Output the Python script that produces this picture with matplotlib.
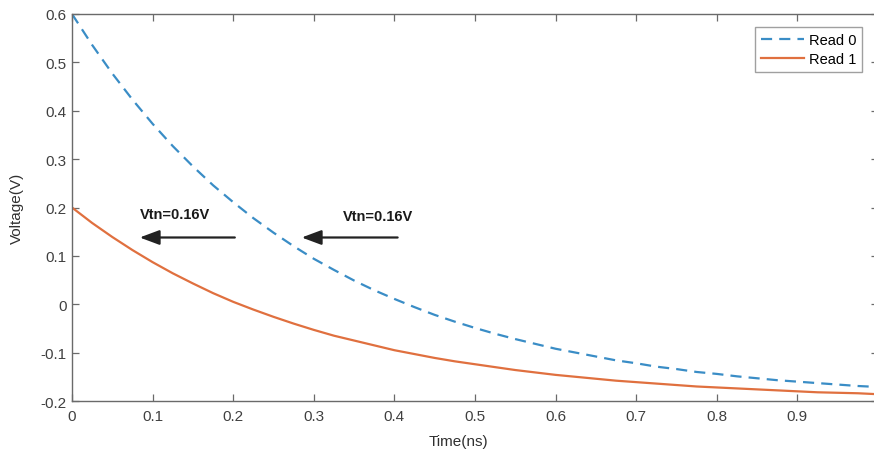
import matplotlib
matplotlib.use("Agg")
import matplotlib.pyplot as plt

plt.rcParams["font.family"] = ["Liberation Sans", "DejaVu Sans"]

time_ns = [0.0, 0.025, 0.05, 0.075, 0.1, 0.125, 0.15, 0.175, 0.2, 0.225, 0.25,
           0.275, 0.3, 0.325, 0.35, 0.375, 0.4, 0.425, 0.45, 0.475, 0.5,
           0.525, 0.55, 0.575, 0.6, 0.625, 0.65, 0.675, 0.7, 0.725, 0.75,
           0.775, 0.8, 0.825, 0.85, 0.875, 0.9, 0.925, 0.95, 0.975, 1.0]
read0 = [0.600, 0.536, 0.477, 0.423, 0.373, 0.327, 0.285, 0.246, 0.211, 0.178, 0.148,
         0.120, 0.094, 0.071, 0.049, 0.029, 0.011, -0.006, -0.022, -0.036, -0.049,
         -0.061, -0.072, -0.082, -0.092, -0.100, -0.108, -0.116, -0.122, -0.129, -0.134,
         -0.140, -0.144, -0.149, -0.153, -0.157, -0.160, -0.163, -0.166, -0.169, -0.171]
read1 = [0.200, 0.168, 0.139, 0.112, 0.087, 0.064, 0.043, 0.023, 0.005, -0.011, -0.026,
         -0.040, -0.053, -0.065, -0.075, -0.085, -0.095, -0.103, -0.111, -0.118, -0.124,
         -0.130, -0.136, -0.141, -0.146, -0.150, -0.154, -0.158, -0.161, -0.164, -0.167,
         -0.170, -0.172, -0.174, -0.176, -0.178, -0.180, -0.182, -0.183, -0.184, -0.186]
xticks = [0, 0.1, 0.2, 0.3, 0.4, 0.5, 0.6, 0.7, 0.8, 0.9]
xticklabels = ["0", "0.1", "0.2", "0.3", "0.4", "0.5", "0.6", "0.7", "0.8", "0.9"]
yticks = [-0.2, -0.1, 0, 0.1, 0.2, 0.3, 0.4, 0.5, 0.6]
yticklabels = ["-0.2", "-0.1", "0", "0.1", "0.2", "0.3", "0.4", "0.5", "0.6"]
annot_text = "Vtn=0.16V"

W, H = 874, 452
fig = plt.figure(figsize=(W / 100, H / 100), dpi=100)
l, r, t, b = 72, 878, 15, 402
ax = fig.add_axes([l / W, 1 - b / H, (r - l) / W, (b - t) / H])

ax.plot(time_ns, read0, linestyle=(0, (5, 3.2)), color="#3A8DC6", lw=1.6, label="Read 0")
ax.plot(time_ns, read1, linestyle="-", color="#E0703F", lw=1.6, label="Read 1")

ax.set_xlim(0, 1)
ax.set_ylim(-0.2, 0.6)
ax.set_xticks(xticks)
ax.set_xticklabels(xticklabels)
ax.set_yticks(yticks)
ax.set_yticklabels(yticklabels)

spine_col = "#6a6a6a"
for s in ax.spines.values():
    s.set_color(spine_col)
    s.set_linewidth(1.0)
ax.tick_params(direction="in", length=5, width=0.9, color=spine_col,
               labelcolor="#404040", labelsize=11, top=True, right=True)
ax.tick_params(axis="y", pad=4)
ax.tick_params(axis="x", pad=6)

ax.set_xlabel("Time(ns)", fontsize=11, color="#303030")
ax.set_ylabel("Voltage(V)", fontsize=11, color="#303030")
ax.xaxis.set_label_coords((458 - l) / (r - l), -0.085)
ax.yaxis.set_label_coords(-0.06, 0.5)

leg = ax.legend(loc="upper right", bbox_to_anchor=((862 - l) / (r - l), 1 - (28 - t) / (b - t)),
                fontsize=10.5, frameon=True, fancybox=False, handlelength=3.0,
                borderpad=0.4, labelspacing=0.35, handletextpad=0.3, borderaxespad=0)
leg.get_frame().set_edgecolor("#888888")
leg.get_frame().set_linewidth(1.0)

arrow_y = 0.138
astyle = dict(arrowstyle="-|>,head_width=0.28,head_length=0.75", color="#222222", lw=1.6,
              mutation_scale=16, shrinkA=0, shrinkB=0)
ax.annotate("", xy=(0.084, arrow_y), xytext=(0.202, arrow_y), arrowprops=astyle)
ax.annotate("", xy=(0.285, arrow_y), xytext=(0.404, arrow_y), arrowprops=astyle)
ax.text(0.084, 0.186, annot_text, fontsize=10.5, fontweight="bold", va="center", ha="left", color="#1a1a1a")
ax.text(0.336, 0.182, annot_text, fontsize=10.5, fontweight="bold", va="center", ha="left", color="#1a1a1a")

fig.savefig("out.png", dpi=100)
